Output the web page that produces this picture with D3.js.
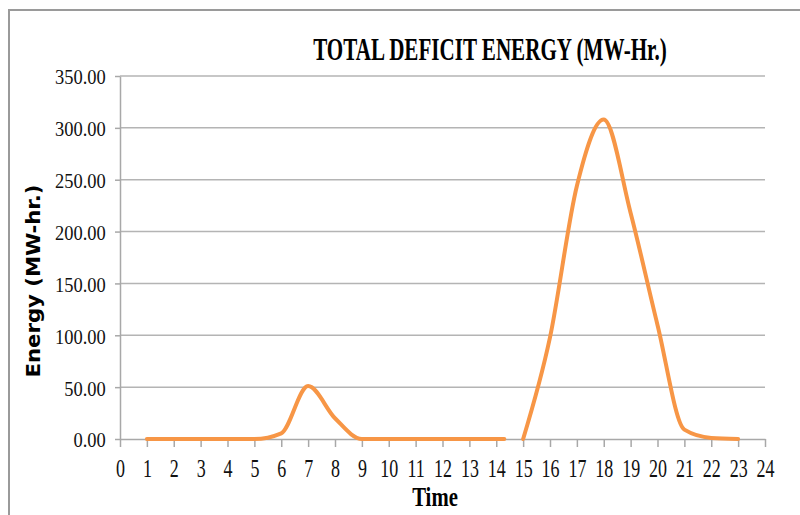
<!DOCTYPE html>
<html>
<head>
<meta charset="utf-8">
<script src="https://cdn.jsdelivr.net/npm/d3@7"></script>
<style>
  body { margin: 0; background: #fff; }
  svg { display: block; }
</style>
</head>
<body>
<div id="chart"></div>
<script>
var svgWidth = 800;
var svgHeight = 515;

// Data (two runs, the line breaks between 14 and 15)
var hoursA = [1, 2, 3, 4, 5, 6, 7, 8, 9, 10, 11, 12, 13, 14, 14.3];
var energyA = [0, 0, 0, 0, 0, 5.5, 51, 20, 0, 0, 0, 0, 0, 0, 0];
var hoursB = [15, 16, 17, 18, 19, 20, 21, 22, 23];
var energyB = [0, 98, 244, 308, 218, 110, 9, 1, 0];

var xTicks = d3.range(0, 25);
var yTicks = [0, 50, 100, 150, 200, 250, 300, 350];

var margin = { top: 76, right: 35, bottom: 76, left: 120 };
var width = svgWidth - margin.left - margin.right;
var height = svgHeight - margin.top - margin.bottom;

var svg = d3.select("#chart")
  .append("svg")
  .attr("width", svgWidth)
  .attr("height", svgHeight);

// outer chart border
svg.append("path")
  .attr("d", "M9,515 V10 H800")
  .attr("fill", "none")
  .attr("stroke", "#9a9a9a")
  .attr("stroke-width", 2);

var chartGroup = svg.append("g")
  .attr("transform", `translate(${margin.left}, ${margin.top})`);

var xScale = d3.scaleLinear().domain([0, 24]).range([0, width]);
var yScale = d3.scaleLinear().domain([0, 350]).range([height, 0]);

// gridlines
chartGroup.append("g")
  .selectAll("line")
  .data(yTicks.filter(d => d > 0))
  .enter()
  .append("line")
  .attr("x1", 0)
  .attr("x2", width)
  .attr("y1", d => yScale(d))
  .attr("y2", d => yScale(d))
  .attr("stroke", "#b4b4b4")
  .attr("stroke-width", 1.5);

// axes
var bottomAxis = d3.axisBottom(xScale).tickValues(xTicks).tickFormat(d3.format("d"))
  .tickSizeInner(8).tickSizeOuter(0).tickPadding(12);
var leftAxis = d3.axisLeft(yScale).tickValues(yTicks).tickFormat(d3.format(".2f"))
  .tickSizeInner(5).tickSizeOuter(0).tickPadding(12);

var xAxisG = chartGroup.append("g")
  .attr("transform", `translate(0, ${height})`)
  .call(bottomAxis);

var yAxisG = chartGroup.append("g")
  .call(leftAxis);

[xAxisG, yAxisG].forEach(function(g) {
  g.select(".domain").attr("stroke", "#a8a8a8").attr("stroke-width", 1.5);
  g.selectAll(".tick line").attr("stroke", "#a8a8a8").attr("stroke-width", 1.5);
  g.selectAll(".tick text")
    .attr("fill", "#111")
    .style("font-family", "'Liberation Serif', 'Times New Roman', serif");
});

xAxisG.selectAll(".tick text")
  .style("font-size", "25px")
  .attr("transform", "scale(0.72,1)");

yAxisG.selectAll(".tick text")
  .style("font-size", "22px")
  .attr("dy", "0.36em")
  .attr("transform", "scale(0.84,1)");

// lines
var line = d3.line()
  .x(d => xScale(d[0]))
  .y(d => yScale(d[1]))
  .curve(d3.curveMonotoneX);

[[hoursA, energyA], [hoursB, energyB]].forEach(function(run) {
  chartGroup.append("path")
    .datum(d3.zip(run[0], run[1]))
    .attr("d", line)
    .attr("fill", "none")
    .attr("stroke", "#f79646")
    .attr("stroke-width", 4)
    .attr("stroke-linecap", "round")
    .attr("stroke-linejoin", "round");
});

// title and axis labels
svg.append("text")
  .attr("transform", "translate(490, 60) scale(0.68,1)")
  .attr("text-anchor", "middle")
  .style("font-family", "'Liberation Serif', 'Times New Roman', serif")
  .style("font-weight", "bold")
  .style("font-size", "31px")
  .text("TOTAL DEFICIT ENERGY (MW-Hr.)");

svg.append("text")
  .attr("transform", "translate(435, 506) scale(0.74,1)")
  .attr("text-anchor", "middle")
  .style("font-family", "'Liberation Serif', 'Times New Roman', serif")
  .style("font-weight", "bold")
  .style("font-size", "28px")
  .text("Time");

svg.append("text")
  .attr("transform", "translate(40, 281) rotate(-90)")
  .attr("text-anchor", "middle")
  .attr("textLength", 193)
  .attr("lengthAdjust", "spacingAndGlyphs")
  .style("font-family", "'DejaVu Sans', Verdana, sans-serif")
  .style("font-weight", "bold")
  .style("font-size", "19px")
  .text("Energy (MW-hr.)");
</script>
</body>
</html>
